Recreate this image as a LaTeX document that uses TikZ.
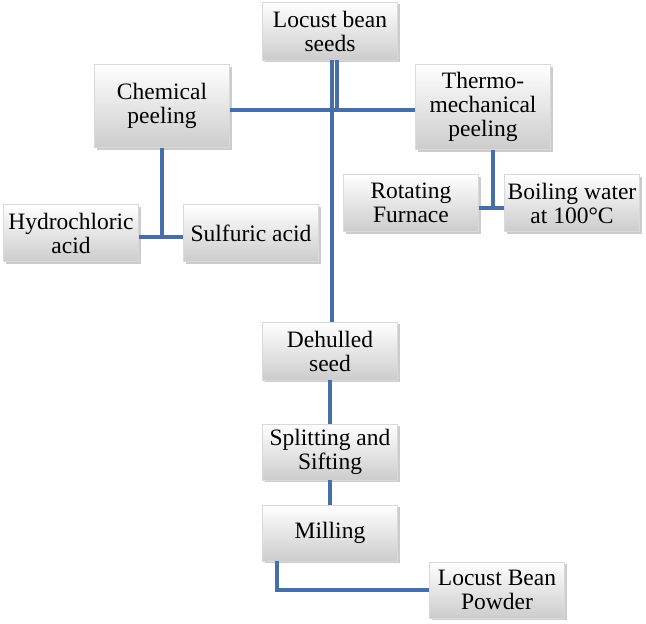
\documentclass[tikz,border=0pt]{standalone}
\usepackage{fontspec}
\setmainfont{Liberation Serif}
\usetikzlibrary{shadows}
\definecolor{ln}{RGB}{70,110,168}
\begin{document}
\begin{tikzpicture}[x=1pt,y=-1pt,
  box/.style={draw=gray!30,top color=white,bottom color=gray!40,
    drop shadow={shadow xshift=2pt,shadow yshift=-2pt,opacity=0.4},
    minimum width=135pt,inner sep=0pt,align=center,
    font=\fontsize{23.5}{24}\selectfont},
  con/.style={draw=ln,line width=4pt}]
\useasboundingbox (0,0) rectangle (646,624);
\node[box,minimum height=58pt] (seeds) at (330,31) {Locust bean\\seeds};
\node[box,minimum height=83pt] (chem) at (162,106) {Chemical\\peeling};
\node[box,minimum height=85pt] (thermo) at (483,107) {Thermo-\\mechanical\\peeling};
\node[box,minimum height=57pt] (rot) at (411,203) {Rotating\\Furnace};
\node[box,minimum height=57pt] (boil) at (572,203) {Boiling water\\at 100\textdegree C};
\node[box,minimum height=57pt] (hcl) at (71,233) {Hydrochloric\\acid};
\node[box,minimum height=57pt] (sulf) at (251,233) {Sulfuric acid};
\node[box,minimum height=58pt] (dehul) at (330,351) {Dehulled\\seed};
\node[box,minimum height=56pt] (split) at (330,452) {Splitting and\\Sifting};
\node[box,minimum height=56pt] (mill) at (330,533) {Milling};
\node[box,minimum height=56pt] (pow) at (497,590) {Locust Bean\\Powder};
\coordinate (j) at (332,110);
\draw[con] (chem.east|-j) -- (thermo.west|-j);
\draw[con] (seeds.south-|332,0) -- (332,110);
\draw[con] (seeds.south-|337,0) -- (337,110);
\draw[con] (j) -- (dehul.north-|j);
\draw[con] (chem.south) -- (162,237);
\draw[con] (hcl.east|-0,237) -- (sulf.west|-0,237);
\draw[con] (thermo.south-|493,0) -- (493,208);
\draw[con] (rot.east|-0,208) -- (boil.west|-0,208);
\draw[con] (dehul.south) -- (split.north);
\draw[con] (split.south) -- (mill.north);
\draw[con] (mill.south-|277,0) |- (pow.west);
\end{tikzpicture}
\end{document}
